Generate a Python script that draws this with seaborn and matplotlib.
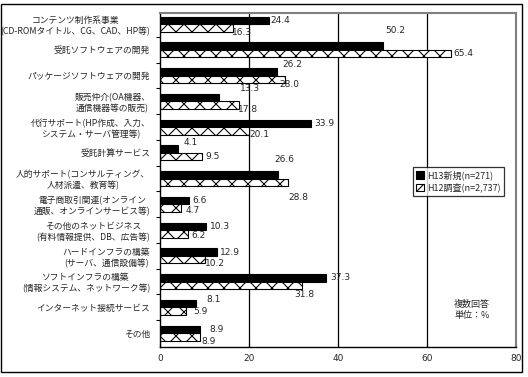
import numpy as np
import pandas as pd
import matplotlib
matplotlib.use("Agg")
import matplotlib.pyplot as plt
import seaborn as sns
from matplotlib.patches import Rectangle

categories = [
    "コンテンツ制作系事業\n(CD-ROMタイトル、CG、CAD、HP等)",
    "受託ソフトウェアの開発",
    "パッケージソフトウェアの開発",
    "販売仲介(OA機器、\n通信機器等の販売)",
    "代行サポート(HP作成、入力、\nシステム・サーバ管理等)",
    "受託計算サービス",
    "人的サポート(コンサルティング、\n人材派遣、教育等)",
    "電子商取引関連(オンライン\n通販、オンラインサービス等)",
    "その他のネットビジネス\n(有料情報提供、DB、広告等)",
    "ハードインフラの構築\n(サーバ、通信設備等)",
    "ソフトインフラの構築\n(情報システム、ネットワーク等)",
    "インターネット接続サービス",
    "その他",
]
series_names = ["H13新規(n=271)", "H12調査(n=2,737)"]
h13_values = [24.4, 50.2, 26.2, 13.3, 33.9, 4.1, 26.6, 6.6, 10.3, 12.9, 37.3, 8.1, 8.9]
h12_values = [16.3, 65.4, 28.0, 17.8, 20.1, 9.5, 28.8, 4.7, 6.2, 10.2, 31.8, 5.9, 8.9]
x_ticks = [0, 20, 40, 60, 80]

# label offsets in pixels (dx, dy; dy positive = up)
h13_offsets = [(2, 0), (2, 16), (6, 7), (21, 9), (3, 0), (5, 7), (-4, 15),
               (3, 0), (4, 0), (3, 0), (4, 0), (10, 4), (10, 0)]
h12_offsets = [(-1, -5), (2, 0), (-5, -5), (-1, -4), (0, -4), (3, 0), (0, -15),
               (5, -2), (4, -2), (0, -4), (-7, -9), (7, 0), (2, -5)]

DPI = 96
K = 100 / DPI  # keep pixel sizes as designed for 100 dpi

sns.set_style("white")
plt.rcParams["font.family"] = ["Noto Sans CJK JP", "DejaVu Sans"]
plt.rcParams["hatch.linewidth"] = 0.8

df = pd.DataFrame({
    "category": categories * 2,
    "series": [series_names[0]] * len(categories) + [series_names[1]] * len(categories),
    "value": h13_values + h12_values,
})

fig = plt.figure(figsize=(528 / DPI, 377 / DPI), dpi=DPI)
ax = fig.add_axes([160 / 528, 30 / 377, 356 / 528, 334 / 377])

sns.barplot(data=df, y="category", x="value", hue="series", orient="h",
            palette={series_names[0]: "black", series_names[1]: "white"},
            saturation=1, width=0.58, edgecolor="black", linewidth=0.8 * K,
            errorbar=None, ax=ax, legend=False)

for p in ax.containers[1]:
    p.set_hatch("xx")
    p.set_facecolor("white")
    p.set_edgecolor("black")

for cont, vals, offs in [(ax.containers[0], h13_values, h13_offsets),
                         (ax.containers[1], h12_values, h12_offsets)]:
    for p, v, (dx, dy) in zip(cont, vals, offs):
        ax.annotate(f"{v:.1f}", xy=(p.get_width(), p.get_y() + p.get_height() / 2),
                    xytext=(dx, dy), textcoords="offset pixels",
                    ha="left", va="center", fontsize=6.5 * K, family="DejaVu Sans")

ax.set_xlim(0, 80)
ax.set_ylim(12.54, -0.43)
ax.set_xticks(x_ticks)
ax.set_xticklabels([str(t) for t in x_ticks], fontsize=6.5 * K, family="DejaVu Sans")
ax.set_xlabel("")
ax.set_ylabel("")
ax.set_axisbelow(True)
for t in x_ticks[1:-1]:
    ax.axvline(t, color="black", lw=0.9 * K, zorder=0)

ax.set_yticks(range(len(categories)))
ax.set_yticklabels(categories, fontsize=6.3 * K)
for t in ax.get_yticklabels():
    t.set_multialignment("center")
    t.set_linespacing(1.25)
ax.set_yticks(np.arange(0.5, len(categories) - 1, 1), minor=True)
ax.tick_params(axis="y", which="major", length=0, pad=7 * K)
ax.tick_params(axis="y", which="minor", length=3 * K, width=0.8 * K, direction="out",
               color="black", left=True)
ax.tick_params(axis="x", which="major", length=3 * K, width=0.8 * K, direction="in",
               color="black", pad=5 * K, bottom=True)

for s in ["left", "bottom"]:
    ax.spines[s].set_color("black")
    ax.spines[s].set_linewidth(1.0 * K)
for s in ["top", "right"]:
    ax.spines[s].set_color("#808080")
    ax.spines[s].set_linewidth(1.5 * K)

leg = ax.legend(handles=[ax.containers[0][0], ax.containers[1][0]], labels=series_names,
                loc="upper left", bbox_to_anchor=(0.711, 0.539), fontsize=6.5 * K,
                frameon=True, fancybox=False, handlelength=0.9, handleheight=0.9,
                handletextpad=0.3, borderpad=0.35, labelspacing=0.3, borderaxespad=0)
leg.get_frame().set_edgecolor("black")
leg.get_frame().set_linewidth(0.9 * K)

ax.text(0.826, 0.14, "複数回答\n単位：%", transform=ax.transAxes, ha="left", va="top",
        fontsize=6.5 * K, linespacing=1.3)

fig.patches.append(Rectangle((1 / 528, 5 / 377), 521 / 528, 368 / 377, transform=fig.transFigure,
                             fill=False, edgecolor="black", linewidth=1.0 * K))

fig.savefig("out.png", dpi=DPI)
